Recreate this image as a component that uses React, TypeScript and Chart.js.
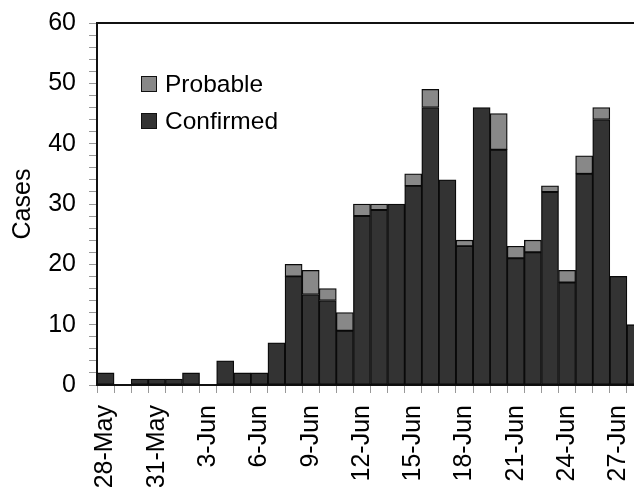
import React, { useEffect, useRef } from "react";
import { Chart, registerables } from "chart.js";

Chart.register(...registerables);

const dateLabels = [
  "28-May", "29-May", "30-May", "31-May", "1-Jun", "2-Jun", "3-Jun", "4-Jun",
  "5-Jun", "6-Jun", "7-Jun", "8-Jun", "9-Jun", "10-Jun", "11-Jun", "12-Jun",
  "13-Jun", "14-Jun", "15-Jun", "16-Jun", "17-Jun", "18-Jun", "19-Jun", "20-Jun",
  "21-Jun", "22-Jun", "23-Jun", "24-Jun", "25-Jun", "26-Jun", "27-Jun", "28-Jun",
];
const confirmed = [2, 0, 1, 1, 1, 2, 0, 4, 2, 2, 7, 18, 15, 14, 9, 28, 29, 30, 33, 46, 34, 23, 46, 39, 21, 22, 32, 17, 35, 44, 18, 10];
const probable = [0, 0, 0, 0, 0, 0, 0, 0, 0, 0, 0, 2, 4, 2, 3, 2, 1, 0, 2, 3, 0, 1, 0, 6, 2, 2, 1, 2, 3, 2, 0, 0];
const yTicks = [0, 10, 20, 30, 40, 50, 60];

const CONFIRMED_COLOR = "#333333";
const PROBABLE_COLOR = "#888888";
const FONT = "'Liberation Sans', Arial, sans-serif";

const frameLines = {
  id: "frameLines",
  afterDraw(chart: any) {
    const { ctx, chartArea } = chart;
    ctx.save();
    ctx.strokeStyle = "#111";
    ctx.lineWidth = 2;
    ctx.beginPath();
    ctx.moveTo(chartArea.left, chartArea.top);
    ctx.lineTo(chartArea.right, chartArea.top);
    ctx.lineTo(chartArea.right, chartArea.bottom);
    ctx.stroke();
    ctx.restore();
  },
};

export default function App() {
  const ref = useRef<HTMLCanvasElement | null>(null);

  useEffect(() => {
    if (!ref.current) return;
    const chart = new Chart(ref.current, {
      type: "bar",
      data: {
        labels: dateLabels,
        datasets: [
          {
            label: "Confirmed",
            data: confirmed,
            backgroundColor: CONFIRMED_COLOR,
            borderColor: "#0a0a0a",
            borderWidth: 1.3,
            borderSkipped: false,
            barPercentage: 1,
            categoryPercentage: 1,
          },
          {
            label: "Probable",
            data: probable,
            backgroundColor: PROBABLE_COLOR,
            borderColor: "#0a0a0a",
            borderWidth: 1.3,
            borderSkipped: false,
            barPercentage: 1,
            categoryPercentage: 1,
          },
        ],
      },
      options: {
        animation: false,
        responsive: false,
        maintainAspectRatio: false,
        layout: { padding: { left: 0, top: 23, right: 0, bottom: 0 } },
        plugins: {
          legend: { display: false },
          tooltip: { enabled: false },
        },
        scales: {
          x: {
            stacked: true,
            grid: {
              offset: true,
              drawOnChartArea: false,
              drawTicks: true,
              tickLength: 8,
              color: "#999",
            },
            border: { color: "#111", width: 2 },
            ticks: {
              autoSkip: false,
              minRotation: 90,
              maxRotation: 90,
              padding: 12,
              color: "#000",
              font: { family: FONT, size: 25 },
              callback: (_v: any, i: number) => (i % 3 === 0 ? dateLabels[i] : ""),
            },
            afterFit: (scale: any) => {
              scale.height = 102;
              scale.paddingLeft = 0;
              scale.paddingRight = 0;
            },
          },
          y: {
            stacked: true,
            min: yTicks[0],
            max: yTicks[yTicks.length - 1],
            grid: {
              drawOnChartArea: false,
              drawTicks: true,
              tickLength: 8,
              color: "#999",
            },
            border: { color: "#111", width: 2 },
            ticks: {
              stepSize: 2,
              autoSkip: false,
              padding: 13,
              color: "#000",
              font: { family: FONT, size: 25 },
              callback: (v: any) => (yTicks.includes(Number(v)) ? String(v) : ""),
            },
            title: {
              display: true,
              text: "Cases",
              color: "#000",
              font: { family: FONT, size: 25 },
              padding: { top: 8, bottom: 0 },
            },
            afterFit: (scale: any) => {
              scale.width = 97;
              scale.paddingTop = 0;
              scale.paddingBottom = 0;
            },
          },
        },
      },
      plugins: [frameLines],
    });
    return () => chart.destroy();
  }, []);

  const legendItems = [
    { label: "Probable", color: PROBABLE_COLOR },
    { label: "Confirmed", color: CONFIRMED_COLOR },
  ];

  return (
    <div
      style={{
        position: "fixed",
        left: 0,
        top: 0,
        width: 634,
        height: 487,
        overflow: "hidden",
        background: "#fff",
      }}
    >
      <canvas ref={ref} width={644} height={487} style={{ display: "block", width: 644, height: 487 }} />
      <div style={{ position: "absolute", left: 141, top: 65, fontFamily: FONT, fontSize: 24.5, color: "#000" }}>
        {legendItems.map((it) => (
          <div key={it.label} style={{ display: "flex", alignItems: "center", height: 37 }}>
            <span
              style={{
                display: "inline-block",
                width: 14,
                height: 14,
                background: it.color,
                border: "1.5px solid #111",
                marginRight: 8,
              }}
            />
            <span>{it.label}</span>
          </div>
        ))}
      </div>
    </div>
  );
}
